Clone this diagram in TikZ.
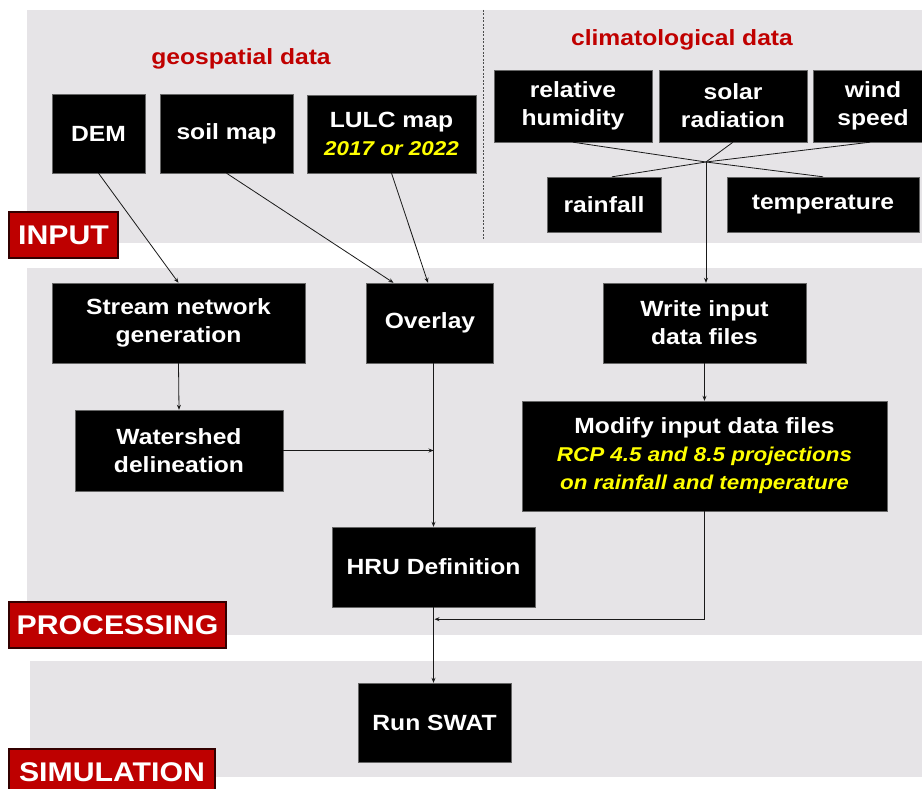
\documentclass[tikz,border=0pt]{standalone}
\usepackage{fontspec}
\setmainfont{Liberation Sans}[FakeStretch=1.12]
\usetikzlibrary{arrows.meta}
\definecolor{panelgray}{RGB}{230,228,231}
\definecolor{hdred}{RGB}{192,0,0}
\definecolor{lblred}{RGB}{190,0,0}
\definecolor{yel}{RGB}{255,255,0}
\newcommand\yelit{\color{yel}\itshape\fontsize{20}{27}\selectfont}
\begin{document}
\begin{tikzpicture}[x=1pt,y=-1pt,
 box/.style={fill=black, draw=black!60, line width=0.4pt, text=white, inner sep=0pt, align=center, font=\bfseries\fontsize{22}{28}\selectfont},
 lbl/.style={fill=lblred, draw=black!80!red, line width=2pt, text=white, inner sep=0pt, font=\bfseries\fontsize{27}{30}\selectfont},
 hd/.style={text=hdred, inner sep=0pt, font=\bfseries\fontsize{22}{26}\selectfont},
 panel/.style={fill=panelgray, draw=none},
 conn/.style={line width=0.8pt, draw=black!90},
 arr/.style={conn, -{Stealth[length=5pt,width=4pt]}},
]
\useasboundingbox (0,0) rectangle (922,789);
% panels
\fill[panel] (27,10) rectangle (930,243);
\fill[panel] (27,268) rectangle (930,635);
\fill[panel] (30,661) rectangle (930,777);
\draw[black!70, line width=0.6pt, dash pattern=on 2pt off 1.5pt] (483,10) -- (483,240);
% headings
\node[hd] (geo) at (241,59) {geospatial data};
\node[hd] (clim) at (682,40) {climatological data};
% input nodes
\node[box, minimum width=93, minimum height=79] (dem) at (98.5,133.5) {DEM};
\node[box, minimum width=133, minimum height=79] (soil) at (226.5,133.5) {soil map};
\node[box, minimum width=169, minimum height=78] (lulc) at (391.5,134) {LULC map\\{\yelit 2017 or 2022}};
\node[box, minimum width=158, minimum height=72] (relhum) at (573,106) {relative\\humidity};
\node[box, minimum width=148, minimum height=72] (solar) at (733,106) {solar\\radiation};
\node[box, minimum width=120, minimum height=72] (wind) at (873,106) {wind\\speed};
\node[box, minimum width=114, minimum height=55] (rain) at (604,204.5) {rainfall};
\node[box, minimum width=192, minimum height=55] (temp) at (823,204.5) {temperature};
\coordinate (junc) at (706,162);
% processing nodes
\node[box, minimum width=253, minimum height=80] (stream) at (178.5,323) {Stream network\\generation};
\node[box, minimum width=127, minimum height=80] (overlay) at (430,323) {Overlay};
\node[box, minimum width=203, minimum height=80] (write) at (704.5,323) {Write input\\data files};
\node[box, minimum width=208, minimum height=81] (ws) at (179,450.5) {Watershed\\delineation};
\node[box, minimum width=365, minimum height=110] (modify) at (704.5,456) {Modify input data files\\{\yelit RCP 4.5 and 8.5 projections}\\{\yelit on rainfall and temperature}};
\node[box, minimum width=203, minimum height=80] (hru) at (433.5,567) {HRU Definition};
\node[box, minimum width=153, minimum height=79] (run) at (434.5,722.5) {Run SWAT};
% labels
\node[lbl, minimum width=109, minimum height=46] (linput) at (63.5,235) {INPUT};
\node[lbl, minimum width=217, minimum height=46] (lproc) at (117.5,625) {PROCESSING};
\node[lbl, minimum width=206, minimum height=46] (lsim) at (112,772) {SIMULATION};
% climatological connectors
\draw[conn] (relhum.south) -- (junc) -- (temp.north);
\draw[conn] ([xshift=-3pt]wind.south) -- (junc) -- ([xshift=8pt]rain.north);
\draw[conn] (solar.south) -- (junc);
\draw[arr] (junc) -- (junc |- write.north);
% geospatial connectors
\draw[arr] (dem.south) -- (stream.north);
\draw[arr] (soil.south) -- ([xshift=-36.5pt]overlay.north);
\draw[arr] (lulc.south) -- ([xshift=-2pt]overlay.north);
\draw[arr] (stream.south) -- (ws.north);
\draw[arr] (ws.east) -- (ws.east -| hru.north);
\draw[arr] (hru.north |- overlay.south) -- (hru.north);
\draw[arr] (write.south) -- (modify.north);
\draw[arr] (modify.south) |- ([yshift=-12pt,xshift=1pt]hru.south);
\draw[arr] (hru.south) -- (hru.south |- run.north);
\end{tikzpicture}
\end{document}
